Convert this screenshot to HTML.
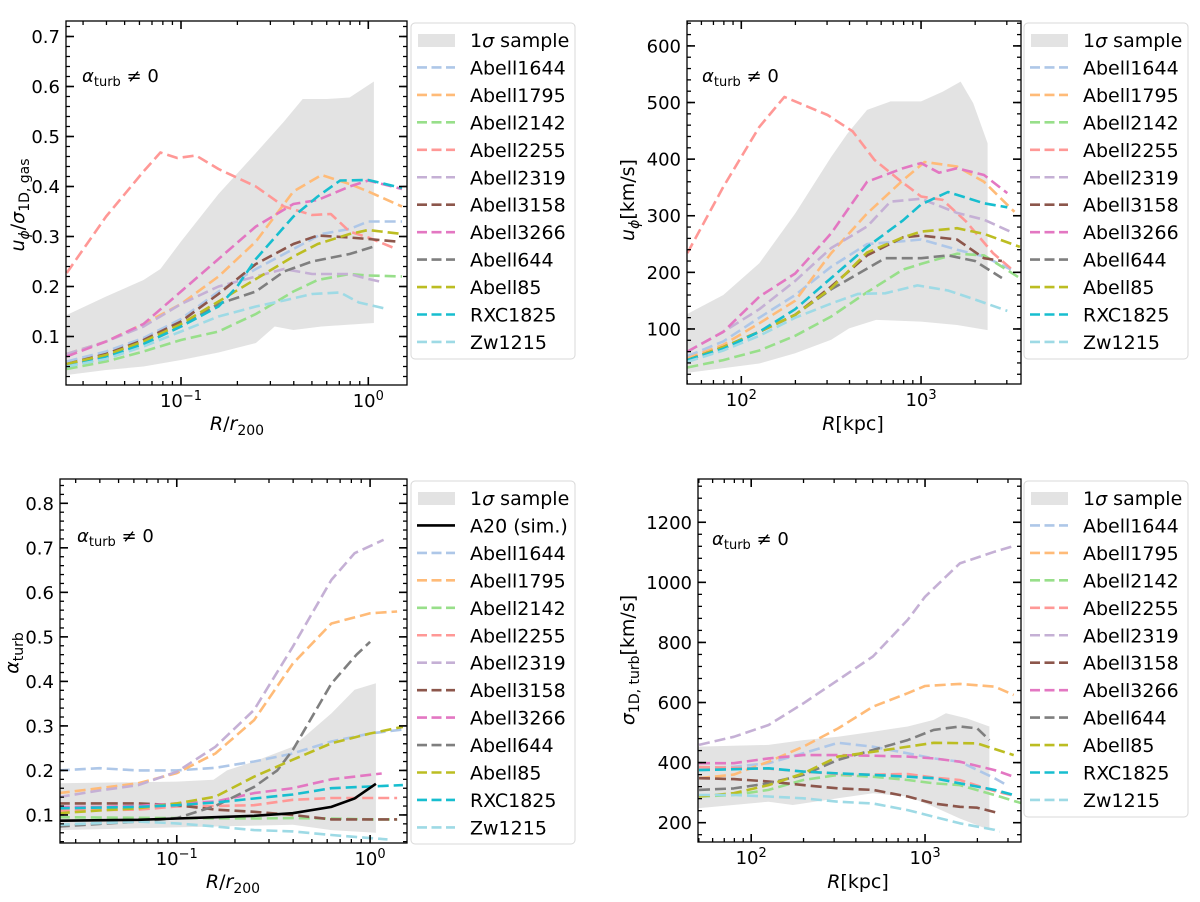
<!DOCTYPE html>
<html><head><meta charset="utf-8">
<style>
html,body{margin:0;padding:0;background:#fff;}
svg{display:block;font-family:"DejaVu Sans","Liberation Sans",sans-serif;}
</style></head>
<body>
<svg id="fig" width="1200" height="902" viewBox="0 0 1200 902" xmlns="http://www.w3.org/2000/svg"></svg>
<script>
// ---------- data: [log10(R), value] ----------
// Panel 1: u_phi / sigma_1D,gas vs R/r200
const p1_band_up = [[-1.61,.143],[-1.4,.18],[-1.2,.213],[-1.11,.235],[-1.0,.29],[-0.8,.385],[-0.6,.467],[-0.45,.53],[-0.35,.575],[-0.22,.575],[-0.1,.578],[0.03,.61]];
const p1_band_lo = [[-1.61,.023],[-1.4,.033],[-1.2,.04],[-1.0,.053],[-0.8,.068],[-0.6,.087],[-0.5,.12],[-0.4,.113],[-0.25,.12],[0.03,.127]];
const p1_A1644 = [[-1.61,.05],[-1.4,.07],[-1.2,.097],[-1.0,.135],[-0.8,.19],[-0.6,.235],[-0.4,.275],[-0.25,.305],[-0.1,.315],[0,.33],[0.18,.33]];
const p1_A1795 = [[-1.61,.065],[-1.4,.09],[-1.2,.125],[-1.0,.165],[-0.8,.22],[-0.6,.29],[-0.4,.39],[-0.25,.423],[-0.1,.405],[0,.39],[0.18,.36]];
const p1_A2142 = [[-1.61,.035],[-1.4,.05],[-1.2,.07],[-1.0,.093],[-0.8,.11],[-0.6,.145],[-0.4,.19],[-0.27,.213],[-0.1,.225],[0,.222],[0.18,.22]];
const p1_A2255 = [[-1.61,.227],[-1.4,.34],[-1.2,.43],[-1.11,.468],[-1.02,.457],[-0.92,.462],[-0.8,.435],[-0.6,.40],[-0.45,.36],[-0.3,.343],[-0.2,.345],[-0.1,.31],[0,.298],[0.15,.275]];
const p1_A2319 = [[-1.61,.065],[-1.4,.09],[-1.2,.12],[-1.0,.165],[-0.8,.2],[-0.6,.22],[-0.45,.235],[-0.3,.225],[-0.1,.225],[0,.215],[0.06,.21]];
const p1_A3158 = [[-1.61,.045],[-1.4,.065],[-1.2,.093],[-1.0,.13],[-0.8,.185],[-0.6,.245],[-0.4,.285],[-0.27,.302],[-0.1,.298],[0,.295],[0.15,.29]];
const p1_A3266 = [[-1.61,.06],[-1.4,.09],[-1.2,.125],[-1.0,.19],[-0.8,.255],[-0.6,.32],[-0.4,.365],[-0.27,.373],[-0.1,.40],[0,.412],[0.18,.395]];
const p1_A644 = [[-1.61,.04],[-1.4,.06],[-1.2,.085],[-1.0,.12],[-0.8,.165],[-0.6,.19],[-0.45,.23],[-0.3,.25],[-0.1,.265],[0.03,.28]];
const p1_A85 = [[-1.61,.045],[-1.4,.063],[-1.2,.09],[-1.0,.125],[-0.8,.17],[-0.6,.215],[-0.4,.26],[-0.27,.285],[-0.1,.305],[0,.313],[0.18,.305]];
const p1_RXC1825 = [[-1.61,.04],[-1.4,.058],[-1.2,.085],[-1.0,.12],[-0.8,.16],[-0.7,.2],[-0.6,.255],[-0.4,.34],[-0.27,.38],[-0.15,.412],[0,.413],[0.18,.397]];
const p1_Zw1215 = [[-1.61,.04],[-1.4,.055],[-1.2,.08],[-1.0,.11],[-0.8,.14],[-0.6,.16],[-0.45,.172],[-0.3,.185],[-0.15,.188],[-0.05,.168],[0.1,.155]];
// Panel 2: u_phi [km/s] vs R [kpc]
const p2_band_up = [[1.69,125],[1.9,160],[2.1,216],[2.3,304],[2.5,404],[2.59,445],[2.7,487],[2.83,502],[3.0,502],[3.12,519],[3.22,537],[3.29,499],[3.37,428]];
const p2_band_lo = [[1.69,22],[2.1,39],[2.3,57],[2.5,81],[2.6,101],[2.75,116],[3.0,113],[3.2,107],[3.37,98]];
const p2_A1644 = [[1.7,52],[1.9,78],[2.1,120],[2.3,160],[2.5,210],[2.7,250],[2.9,255],[3.0,258],[3.2,240],[3.35,228],[3.5,205]];
const p2_A1795 = [[1.7,48],[1.9,72],[2.1,110],[2.3,150],[2.5,234],[2.7,304],[2.9,363],[3.02,395],[3.2,387],[3.35,360],[3.52,307]];
const p2_A2142 = [[1.7,32],[1.9,45],[2.1,62],[2.3,88],[2.5,122],[2.7,165],[2.9,205],[3.0,215],[3.2,233],[3.35,230],[3.56,188]];
const p2_A2255 = [[1.7,234],[1.9,351],[2.1,457],[2.24,510],[2.48,478],[2.62,449],[2.74,399],[2.88,363],[3.0,334],[3.12,328],[3.25,290],[3.4,234],[3.51,204]];
const p2_A2319 = [[1.7,60],[1.9,95],[2.1,135],[2.3,185],[2.5,243],[2.7,281],[2.83,325],[3.0,330],[3.2,305],[3.35,293],[3.51,270]];
const p2_A3158 = [[1.7,45],[1.9,68],[2.1,95],[2.3,125],[2.5,175],[2.7,230],[2.9,262],[3.0,265],[3.2,258],[3.35,225],[3.45,220]];
const p2_A3266 = [[1.7,60],[1.9,95],[2.1,157],[2.3,198],[2.5,269],[2.7,360],[2.9,384],[3.0,393],[3.1,376],[3.2,384],[3.35,372],[3.48,340]];
const p2_A644 = [[1.7,45],[1.9,68],[2.1,95],[2.3,125],[2.5,170],[2.62,192],[2.8,225],[3.0,225],[3.15,230],[3.3,220],[3.45,190]];
const p2_A85 = [[1.7,45],[1.9,68],[2.1,95],[2.3,125],[2.5,172],[2.7,235],[2.9,262],[3.0,272],[3.2,278],[3.35,268],[3.55,245]];
const p2_RXC1825 = [[1.7,45],[1.9,65],[2.1,95],[2.3,135],[2.5,190],[2.7,245],[2.9,292],[3.0,320],[3.15,342],[3.35,322],[3.48,315]];
const p2_Zw1215 = [[1.7,42],[1.9,62],[2.1,88],[2.3,120],[2.5,145],[2.65,162],[2.8,163],[2.98,177],[3.15,168],[3.3,152],[3.48,132]];
// Panel 3: alpha_turb vs R/r200
const p3_band_up = [[-1.61,.171],[-1.0,.175],[-0.81,.179],[-0.74,.2],[-0.6,.22],[-0.4,.253],[-0.2,.328],[-0.08,.381],[0.03,.396]];
const p3_band_lo = [[-1.61,.066],[-1.2,.07],[-0.8,.074],[-0.4,.078],[-0.2,.066],[0.03,.06]];
const p3_A20 = [[-1.61,.087],[-1.2,.089],[-1.0,.092],[-0.8,.095],[-0.6,.098],[-0.4,.104],[-0.2,.118],[-0.08,.137],[0.03,.17]];
const p3_A1644 = [[-1.61,.2],[-1.4,.205],[-1.2,.2],[-1.0,.2],[-0.8,.206],[-0.6,.22],[-0.4,.238],[-0.2,.265],[0,.283],[0.17,.292]];
const p3_A1795 = [[-1.61,.149],[-1.4,.16],[-1.2,.171],[-1.0,.194],[-0.8,.238],[-0.6,.313],[-0.4,.44],[-0.2,.53],[0,.553],[0.14,.557]];
const p3_A2142 = [[-1.61,.095],[-1.0,.093],[-0.6,.092],[-0.4,.093],[-0.2,.092],[0,.09],[0.14,.09]];
const p3_A2255 = [[-1.61,.11],[-1.2,.112],[-1.0,.119],[-0.8,.12],[-0.6,.122],[-0.4,.134],[-0.2,.138],[0.14,.138]];
const p3_A2319 = [[-1.61,.14],[-1.4,.155],[-1.2,.167],[-1.0,.197],[-0.8,.253],[-0.6,.336],[-0.4,.478],[-0.2,.628],[-0.08,.688],[0.07,.718]];
const p3_A3158 = [[-1.61,.126],[-1.2,.126],[-1.0,.122],[-0.8,.112],[-0.6,.107],[-0.4,.1],[-0.2,.09],[0.14,.09]];
const p3_A3266 = [[-1.61,.118],[-1.4,.118],[-1.2,.12],[-1.0,.126],[-0.8,.13],[-0.6,.149],[-0.4,.16],[-0.2,.18],[0.06,.193]];
const p3_A644 = [[-1.61,.074],[-1.4,.08],[-1.2,.085],[-1.0,.093],[-0.8,.12],[-0.6,.163],[-0.48,.2],[-0.4,.246],[-0.2,.395],[-0.07,.46],[0,.489]];
const p3_A85 = [[-1.61,.104],[-1.4,.11],[-1.2,.115],[-1.0,.126],[-0.8,.141],[-0.6,.186],[-0.4,.224],[-0.2,.261],[0,.283],[0.17,.298]];
const p3_RXC1825 = [[-1.61,.115],[-1.2,.118],[-1.0,.122],[-0.8,.128],[-0.6,.137],[-0.4,.146],[-0.2,.16],[0,.164],[0.17,.167]];
const p3_Zw1215 = [[-1.61,.078],[-1.2,.085],[-1.0,.081],[-0.8,.074],[-0.6,.066],[-0.4,.063],[-0.2,.055],[0,.048],[0.09,.045]];
// Panel 4: sigma_1D,turb [km/s] vs R [kpc]
const p4_band_up = [[1.69,453],[2.1,459],[2.3,475],[2.5,486],[2.7,503],[2.9,520],[3.05,542],[3.12,564],[3.24,547],[3.37,520]];
const p4_band_lo = [[1.69,248],[2.1,270],[2.24,259],[2.5,281],[2.7,298],[2.9,287],[3.05,253],[3.2,214],[3.37,176]];
const p4_A1644 = [[1.7,381],[1.9,386],[2.1,398],[2.3,431],[2.5,466],[2.7,453],[2.9,431],[3.05,414],[3.2,403],[3.4,348],[3.47,325]];
const p4_A1795 = [[1.7,348],[1.9,360],[2.1,403],[2.3,453],[2.5,514],[2.7,586],[2.9,631],[3.0,655],[3.2,662],[3.4,653],[3.51,625]];
const p4_A2142 = [[1.7,287],[1.9,292],[2.1,309],[2.3,342],[2.5,359],[2.7,353],[2.9,342],[3.05,331],[3.2,325],[3.4,292],[3.56,264]];
const p4_A2255 = [[1.7,385],[2.1,380],[2.3,370],[2.5,362],[2.7,360],[2.9,362],[3.05,350],[3.2,342],[3.4,305],[3.51,290]];
const p4_A2319 = [[1.7,459],[1.9,486],[2.1,525],[2.3,597],[2.5,675],[2.7,753],[2.9,875],[3.0,952],[3.2,1063],[3.4,1102],[3.51,1121]];
const p4_A3158 = [[1.7,348],[1.9,345],[2.1,337],[2.3,325],[2.5,314],[2.7,309],[2.9,287],[3.05,264],[3.2,253],[3.3,250],[3.43,231]];
const p4_A3266 = [[1.7,398],[1.9,398],[2.1,414],[2.3,425],[2.5,425],[2.7,423],[2.9,420],[3.05,414],[3.2,403],[3.4,375],[3.51,353]];
const p4_A644 = [[1.7,309],[1.9,314],[2.1,331],[2.3,359],[2.5,409],[2.7,442],[2.9,475],[3.05,509],[3.2,520],[3.3,514],[3.37,475]];
const p4_A85 = [[1.7,287],[1.9,298],[2.1,325],[2.3,364],[2.5,420],[2.7,436],[2.9,453],[3.05,466],[3.3,464],[3.51,425]];
const p4_RXC1825 = [[1.7,375],[2.1,381],[2.3,370],[2.5,364],[2.7,359],[2.9,353],[3.05,348],[3.2,331],[3.4,309],[3.51,292]];
const p4_Zw1215 = [[1.7,292],[1.9,292],[2.1,287],[2.3,281],[2.5,270],[2.7,264],[2.9,242],[3.05,220],[3.2,198],[3.4,176],[3.43,170]];

const clusterNames = ["Abell1644","Abell1795","Abell2142","Abell2255","Abell2319","Abell3158","Abell3266","Abell644","Abell85","RXC1825","Zw1215"];
const clusterColors = ["#aec7e8","#ffbb78","#98df8a","#ff9896","#c5b0d5","#8c564b","#e377c2","#7f7f7f","#bcbd22","#17becf","#9edae5"];
const p1_ticks = [0.1,0.2,0.3,0.4,0.5,0.6,0.7];
const p2_ticks = [100,200,300,400,500,600];
const p3_ticks = [0.1,0.2,0.3,0.4,0.5,0.6,0.7,0.8];
const p4_ticks = [200,400,600,800,1000,1200];

const NS="http://www.w3.org/2000/svg";
const svg=document.getElementById('fig');
function mk(tag,attrs,parent){const e=document.createElementNS(NS,tag);for(const k in attrs)e.setAttribute(k,attrs[k]);(parent||svg).appendChild(e);return e;}

function drawPanel(id,cfg,band,series,extraBlack){
  const g=mk('g',{});
  
  
  const X=v=>cfg.l+(v-cfg.x0)/(cfg.x1-cfg.x0)*(cfg.r-cfg.l);
  const Y=v=>cfg.b-(v-cfg.y0)/(cfg.y1-cfg.y0)*(cfg.b-cfg.t);
  const cp=mk('clipPath',{id:id+'-clip'},g);
  mk('rect',{x:cfg.l,y:cfg.t,width:cfg.r-cfg.l,height:cfg.b-cfg.t},cp);
  const pg=mk('g',{'clip-path':'url(#'+id+'-clip)'},g);
  let d=band[0].map((p,i)=>(i?'L':'M')+X(p[0]).toFixed(1)+','+Y(p[1]).toFixed(1)).join('');
  d+=band[1].slice().reverse().map(p=>'L'+X(p[0]).toFixed(1)+','+Y(p[1]).toFixed(1)).join('')+'Z';
  const bp=mk('path',{d:d,fill:'#e3e3e3',stroke:'none'},pg);
  
  
  series.forEach((s,i)=>{
    const pd=s.map((p,j)=>(j?'L':'M')+X(p[0]).toFixed(1)+','+Y(p[1]).toFixed(1)).join('');
    const ln=mk('path',{d:pd,fill:'none',stroke:clusterColors[i],'stroke-width':2.6,'stroke-dasharray':'11 5','stroke-linejoin':'round'},pg);
    
    
  });
  if(extraBlack){
    const pd=extraBlack.map((p,j)=>(j?'L':'M')+X(p[0]).toFixed(1)+','+Y(p[1]).toFixed(1)).join('');
    const ln=mk('path',{d:pd,fill:'none',stroke:'#000','stroke-width':2.6},pg);
    
    
  }
  mk('rect',{x:cfg.l,y:cfg.t,width:cfg.r-cfg.l,height:cfg.b-cfg.t,fill:'none',stroke:'#000','stroke-width':1.3},g);
  for(let v=cfg.ymin0;v<=cfg.y1+1e-9;v+=cfg.ymin){
    const y=Y(v); if(y<cfg.t||y>cfg.b) continue;
    mk('line',{x1:cfg.l,x2:cfg.l+4,y1:y,y2:y,stroke:'#000','stroke-width':1.3},g);
    mk('line',{x1:cfg.r,x2:cfg.r-4,y1:y,y2:y,stroke:'#000','stroke-width':1.3},g);
  }
  cfg.yt.forEach(v=>{
    const y=Y(v);
    mk('line',{x1:cfg.l,x2:cfg.l+8,y1:y,y2:y,stroke:'#000','stroke-width':1.6},g);
    mk('line',{x1:cfg.r,x2:cfg.r-8,y1:y,y2:y,stroke:'#000','stroke-width':1.6},g);
    const t=mk('text',{x:cfg.l-6,y:y+6.5,'text-anchor':'end','font-size':18},g);
    t.textContent=cfg.fmt(v);
    
    
  });
  for(let dec=Math.floor(cfg.x0);dec<=Math.ceil(cfg.x1);dec++){
    for(let m=1;m<10;m++){
      const lv=dec+Math.log10(m); if(lv<cfg.x0||lv>cfg.x1) continue;
      const x=X(lv), L=m===1?8:4, w=m===1?1.6:1.3;
      mk('line',{x1:x,x2:x,y1:cfg.b,y2:cfg.b-L,stroke:'#000','stroke-width':w},g);
      mk('line',{x1:x,x2:x,y1:cfg.t,y2:cfg.t+L,stroke:'#000','stroke-width':w},g);
      if(m===1){
        const t=mk('text',{x:x,y:cfg.b+22,'text-anchor':'middle','font-size':18},g);
        
        
        t.innerHTML='10<tspan dy="-7" font-size="13">'+(dec<0?'\u2212'+(-dec):dec)+'</tspan>';
      }
    }
  }
  const an=mk('text',{x:cfg.ax,y:cfg.ay,'font-size':18},g);
  
  
  an.innerHTML='<tspan font-style="italic">\u03b1</tspan><tspan dy="4" font-size="13">turb</tspan><tspan dy="-4"> \u2260 0</tspan>';
  const xl=mk('text',{x:cfg.xlx,y:cfg.xly,'text-anchor':'middle','font-size':19},g);
  
  
  xl.innerHTML=cfg.xlabel;
  const yl=mk('text',{x:0,y:0,'text-anchor':'middle','font-size':19,transform:'translate('+cfg.ylx+','+cfg.yly+') rotate(-90)'},g);
  
  
  yl.innerHTML=cfg.ylabel;
}

function drawLegend(id,bx,by,h,withA20){
  const g=mk('g',{});
  
  
  mk('rect',{x:bx,y:by,width:164,height:h,rx:4,fill:'#fff',stroke:'#d8d8d8','stroke-width':1},g);
  let y=by+17;
  const row=(label,kind,color)=>{
    const e=mk('g',{},g);
    
    
    if(kind==='patch') mk('rect',{x:bx+7,y:y-6,width:37,height:13,fill:'#e3e3e3'},e);
    else if(kind==='solid') mk('line',{x1:bx+6,x2:bx+44,y1:y,y2:y,stroke:color,'stroke-width':2.6},e);
    else mk('line',{x1:bx+6,x2:bx+44,y1:y,y2:y,stroke:color,'stroke-width':2.6,'stroke-dasharray':'10 4.5'},e);
    const t=mk('text',{x:bx+59,y:y+7,'font-size':19},e);
    t.innerHTML=label;
    y+=27.45;
  };
  row('1<tspan font-style="italic">\u03c3</tspan> sample','patch');
  if(withA20) row('A20 (sim.)','solid','#000');
  clusterNames.forEach((n,i)=>row(n,'dash',clusterColors[i]));
}

const f1=v=>v.toFixed(1), f0=v=>String(v);
const lab1='<tspan font-style="italic">R</tspan>/<tspan font-style="italic">r</tspan><tspan dy="5" font-size="14">200</tspan>';
const lab2='<tspan font-style="italic">R</tspan>[kpc]';
drawPanel('panel-uphi-ratio',{l:66,r:407,t:21,b:385,x0:-1.614,x1:0.2066,y0:0.003,y1:0.731,yt:p1_ticks,ymin:0.02,ymin0:0.02,fmt:f1,ax:82,ay:82,xlx:237,xly:430,ylx:24,yly:205,xlabel:lab1,
  ylabel:'<tspan font-style="italic">u</tspan><tspan dy="5" font-size="14" font-style="italic">\u03d5</tspan><tspan dy="-5">/</tspan><tspan font-style="italic">\u03c3</tspan><tspan dy="5" font-size="14">1D, gas</tspan>'},
  [p1_band_up,p1_band_lo],[p1_A1644,p1_A1795,p1_A2142,p1_A2255,p1_A2319,p1_A3158,p1_A3266,p1_A644,p1_A85,p1_RXC1825,p1_Zw1215]);
drawPanel('panel-uphi',{l:687,r:1021,t:21,b:384,x0:1.698,x1:3.556,y0:2.8,y1:644,yt:p2_ticks,ymin:20,ymin0:20,fmt:f0,ax:702,ay:82,xlx:853,xly:430,ylx:634,yly:200,xlabel:lab2,
  ylabel:'<tspan font-style="italic">u</tspan><tspan dy="5" font-size="14" font-style="italic">\u03d5</tspan><tspan dy="-5">[km/s]</tspan>'},
  [p2_band_up,p2_band_lo],[p2_A1644,p2_A1795,p2_A2142,p2_A2255,p2_A2319,p2_A3158,p2_A3266,p2_A644,p2_A85,p2_RXC1825,p2_Zw1215]);
drawPanel('panel-alpha-turb',{l:60,r:407,t:479,b:843,x0:-1.604,x1:0.191,y0:0.037,y1:0.8546,yt:p3_ticks,ymin:0.02,ymin0:0.04,fmt:f1,ax:77,ay:542,xlx:233,xly:888,ylx:18,yly:653,xlabel:lab1,
  ylabel:'<tspan font-style="italic">\u03b1</tspan><tspan dy="5" font-size="14">turb</tspan>'},
  [p3_band_up,p3_band_lo],[p3_A1644,p3_A1795,p3_A2142,p3_A2255,p3_A2319,p3_A3158,p3_A3266,p3_A644,p3_A85,p3_RXC1825,p3_Zw1215],p3_A20);
drawPanel('panel-sigma-turb',{l:698,r:1021,t:479,b:842,x0:1.694,x1:3.552,y0:135.7,y1:1344,yt:p4_ticks,ymin:40,ymin0:160,fmt:f0,ax:712,ay:545,xlx:858,xly:888,ylx:634,yly:660,xlabel:lab2,
  ylabel:'<tspan font-style="italic">\u03c3</tspan><tspan dy="5" font-size="14">1D, turb</tspan><tspan dy="-5">[km/s]</tspan>'},
  [p4_band_up,p4_band_lo],[p4_A1644,p4_A1795,p4_A2142,p4_A2255,p4_A2319,p4_A3158,p4_A3266,p4_A644,p4_A85,p4_RXC1825,p4_Zw1215]);
drawLegend('legend-top-left',411,23,336,false);
drawLegend('legend-top-right',1024,23,336,false);
drawLegend('legend-bottom-left',411,481,363,true);
drawLegend('legend-bottom-right',1024,481,336,false);
</script>
</body></html>
